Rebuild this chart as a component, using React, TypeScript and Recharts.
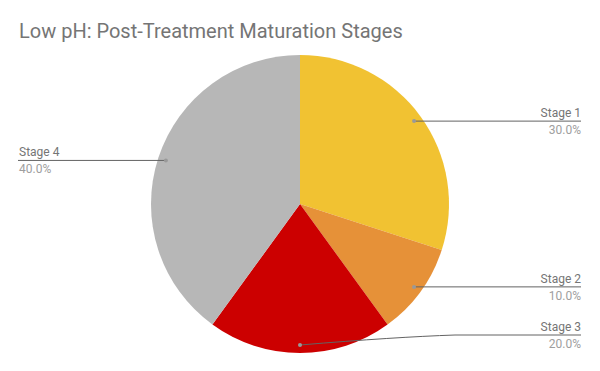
import { PieChart, Pie, Cell } from "recharts";

const stages = ["Stage 1", "Stage 2", "Stage 3", "Stage 4"];
const shares = [30, 10, 20, 40];
const colors = ["#F1C232", "#E69138", "#CC0000", "#B7B7B7"];

const W = 600;
const H = 371;
const RAD = Math.PI / 180;

const data = stages.map((name, i) => ({ name, value: shares[i] }));

function renderLabel(props: any) {
  const { cx, cy, midAngle, outerRadius, percent, name } = props;
  const r = outerRadius - 8;
  const dx = cx + r * Math.cos(-midAngle * RAD);
  const dy = cy + r * Math.sin(-midAngle * RAD);
  const right = dx >= cx;
  const endX = right ? W - 19 : 18;
  // keep label text inside the chart area
  const lineY = Math.min(dy, H - 36);
  const bendX = right ? Math.max(dx, W - 145) : Math.min(dx, 145);
  const path =
    lineY === dy
      ? `M${dx},${dy} L${endX},${lineY}`
      : `M${dx},${dy} Q${bendX - 60},${lineY + 2} ${bendX},${lineY} L${endX},${lineY}`;
  const anchor = right ? "end" : "start";
  const tx = right ? endX : endX + 1;
  return (
    <g>
      <path d={path} stroke="#636363" strokeWidth={1} fill="none" />
      <circle cx={dx} cy={dy} r={2} fill="#999999" />
      <text x={tx} y={lineY - 4} textAnchor={anchor} fontSize={12} fill="#757575" fontFamily="Roboto">
        {name}
      </text>
      <text x={tx} y={lineY + 13} textAnchor={anchor} fontSize={12} fill="#9E9E9E" fontFamily="Roboto">
        {(percent * 100).toFixed(1)}%
      </text>
    </g>
  );
}

export default function App() {
  return (
    <div style={{ position: "absolute", left: 0, top: 0, width: W, height: H, background: "#fff" }}>
      <div
        style={{
          position: "absolute",
          left: 19,
          top: 19,
          fontFamily: "Roboto",
          fontSize: 20,
          color: "#757575",
          lineHeight: "24px",
          whiteSpace: "nowrap",
        }}
      >
        Low pH: Post-Treatment Maturation Stages
      </div>
      <PieChart width={W} height={H} margin={{ top: 0, right: 0, bottom: 0, left: 0 }}>
        <Pie
          data={data}
          dataKey="value"
          nameKey="name"
          cx={300}
          cy={204}
          outerRadius={149}
          startAngle={90}
          endAngle={-270}
          stroke="none"
          labelLine={false}
          label={renderLabel}
          isAnimationActive={false}
        >
          {data.map((d, i) => (
            <Cell key={d.name} fill={colors[i]} />
          ))}
        </Pie>
      </PieChart>
    </div>
  );
}
